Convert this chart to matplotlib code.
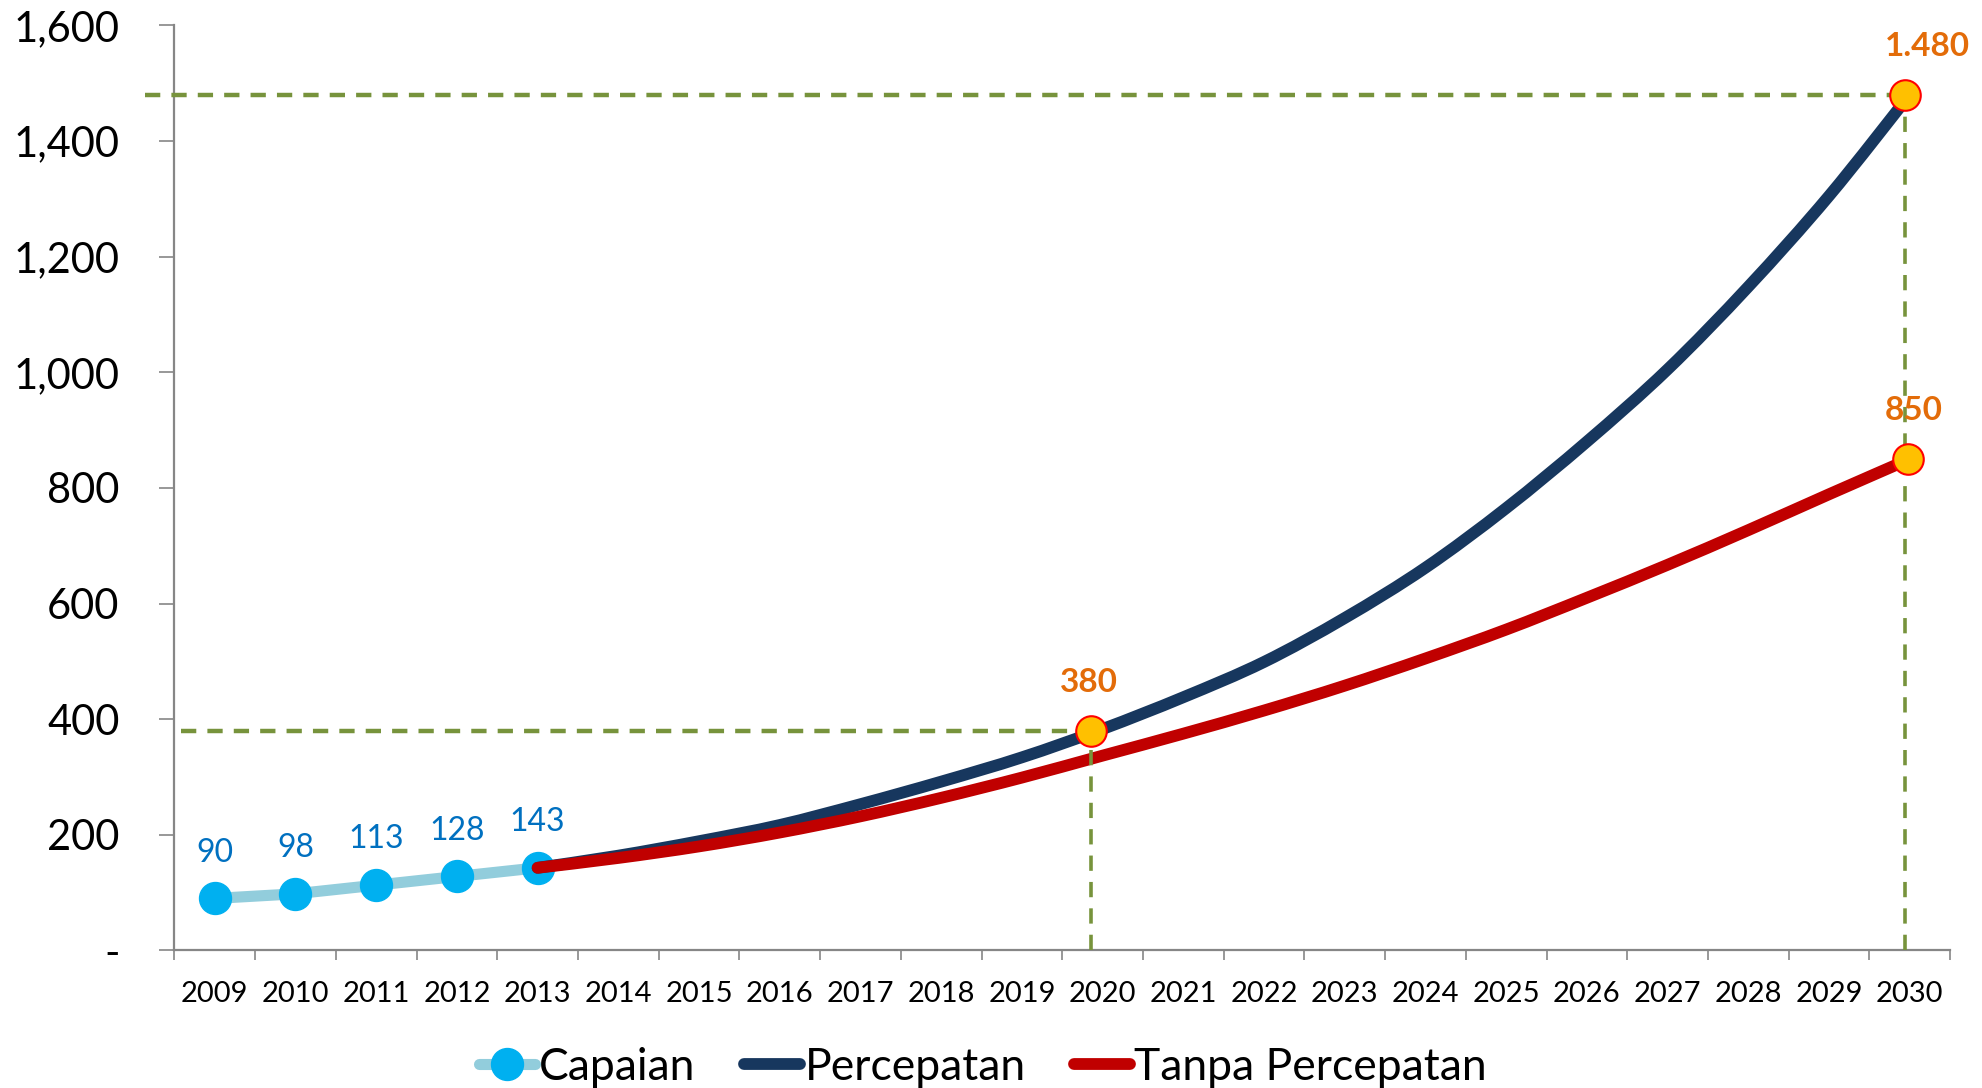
import matplotlib
matplotlib.use('Agg')
import matplotlib.pyplot as plt
from matplotlib.lines import Line2D
from matplotlib.path import Path
from matplotlib.patches import PathPatch
from matplotlib.ticker import FixedLocator, FuncFormatter
import numpy as np

plt.rcParams['font.family'] = ['Lato', 'DejaVu Sans']
plt.rcParams['lines.scale_dashes'] = False

# 数据
years = ['2009', '2010', '2011', '2012', '2013', '2014', '2015', '2016', '2017', '2018', '2019',
         '2020', '2021', '2022', '2023', '2024', '2025', '2026', '2027', '2028', '2029', '2030']
capaian_years = ['2009', '2010', '2011', '2012', '2013']
capaian = [90, 98, 113, 128, 143]
proj_years = years[4:]
percepatan = [143, 164, 189, 217, 253, 292, 334, 383, 438, 499, 575, 662, 765, 880, 1005, 1148, 1305, 1480]
tanpa = [143, 160, 180, 204, 232, 264, 299, 337, 375, 415, 458, 505, 555, 610, 667, 727, 789, 850]
target_years = ['2020', '2030', '2030']
target_values = [380, 1480, 850]
target_labels = ['380', '1.480', '850']

C_CAP_LINE = '#92CDDC'
C_CAP_MARK = '#00B0F0'
C_BLUE = '#17375E'
C_RED = '#C00000'
C_GREEN = '#77933C'
C_ORANGE = '#E36C09'
C_AXIS = '#868686'


def smooth_path(xs, ys):
    # 平滑曲线（类似Excel的平滑线），用贝塞尔曲线连接各数据点
    p = np.column_stack([xs, ys]).astype(float)
    ext = np.vstack([p[0], p, p[-1]])
    verts = [p[0]]
    codes = [Path.MOVETO]
    for i in range(len(p) - 1):
        c1 = ext[i + 1] + (ext[i + 2] - ext[i]) / 6
        c2 = ext[i + 2] - (ext[i + 3] - ext[i + 1]) / 6
        verts += [c1, c2, p[i + 1]]
        codes += [Path.CURVE4] * 3
    return Path(verts, codes)


fig = plt.figure(figsize=(19.82, 10.88), dpi=100)
ax = fig.add_axes([0.088, 0.1264, 0.8959, 0.8503])

idx = {y: i for i, y in enumerate(years)}
xc = [idx[y] for y in capaian_years]
xp = [idx[y] for y in proj_years]

# 系列
ax.plot(xc, capaian, color=C_CAP_LINE, lw=8, marker='o', ms=23,
        mfc=C_CAP_MARK, mec=C_CAP_MARK, solid_capstyle='round', zorder=3)
ax.add_patch(PathPatch(smooth_path(xp, percepatan), fc='none', ec=C_BLUE, lw=8.5,
                       capstyle='round', joinstyle='round', zorder=4))
ax.add_patch(PathPatch(smooth_path(xp, tanpa), fc='none', ec=C_RED, lw=8.5,
                       capstyle='round', joinstyle='round', zorder=5))

for x, v in zip(xc, capaian):
    ax.annotate(str(v), (x, v), xytext=(0, 33), textcoords='offset points',
                ha='center', va='center', fontsize=23, color='#0070C0')

# 目标点和虚线
shift = {'2020': -0.14, '2030': -0.06}
for y, v, lab in zip(target_years, target_values, target_labels):
    x = idx[y] + shift[y] + (0.04 if v == 850 else 0)
    if v != 850:
        x0 = -0.87 if v == 1480 else -0.42
        ax.plot([x0, x], [v, v], color=C_GREEN, lw=3.2, dashes=(11, 8),
                zorder=6, clip_on=False)
        ax.plot([x, x], [0, v], color=C_GREEN, lw=2.6, dashes=(11, 8), zorder=6)
    ax.plot(x, v, 'o', ms=22, mfc='#FFC000', mec='#FF0000', mew=1.5, zorder=7,
            clip_on=False)
    dx = {'380': -2, '1.480': 16, '850': 4}[lab]
    ax.annotate(lab, (x, v), xytext=(dx, 35), textcoords='offset points',
                ha='center', va='center', fontsize=24, fontweight='bold',
                color=C_ORANGE, zorder=8)

# 坐标轴
ax.set_xlim(-0.5, len(years) - 0.5)
ax.set_ylim(0, 1600)
for s in ['top', 'right']:
    ax.spines[s].set_visible(False)
for s in ['left', 'bottom']:
    ax.spines[s].set_color(C_AXIS)
    ax.spines[s].set_linewidth(1.6)

ax.set_yticks(np.arange(0, 1601, 200))
ax.yaxis.set_major_formatter(FuncFormatter(lambda v, p: '-' if v == 0 else f'{int(v):,}'))
ax.tick_params(axis='y', length=10.5, width=1.2, color=C_AXIS, pad=29,
               labelsize=30, labelcolor='black')

ax.xaxis.set_major_locator(FixedLocator(np.arange(-0.5, len(years), 1.0)))
ax.xaxis.set_minor_locator(FixedLocator(np.arange(len(years))))
ax.set_xticklabels([], minor=False)
ax.set_xticklabels(years, minor=True)
ax.tick_params(axis='x', which='major', length=7, width=1.2, color=C_AXIS)
ax.tick_params(axis='x', which='minor', length=0, pad=22, labelsize=21,
               labelcolor='black')

# 图例
handles = [
    Line2D([], [], color=C_CAP_LINE, lw=8, marker='o', ms=23, mfc=C_CAP_MARK,
           mec=C_CAP_MARK, solid_capstyle='round'),
    Line2D([], [], color=C_BLUE, lw=8.5, solid_capstyle='round'),
    Line2D([], [], color=C_RED, lw=8.5, solid_capstyle='round'),
]
fig.legend(handles, ['Capaian', 'Percepatan', 'Tanpa Percepatan'], loc='center',
           bbox_to_anchor=(0.496, 0.019), ncol=3, frameon=False, fontsize=32,
           handlelength=1.25, handletextpad=0.1, columnspacing=1.1)

fig.savefig('out.png', dpi=100)
